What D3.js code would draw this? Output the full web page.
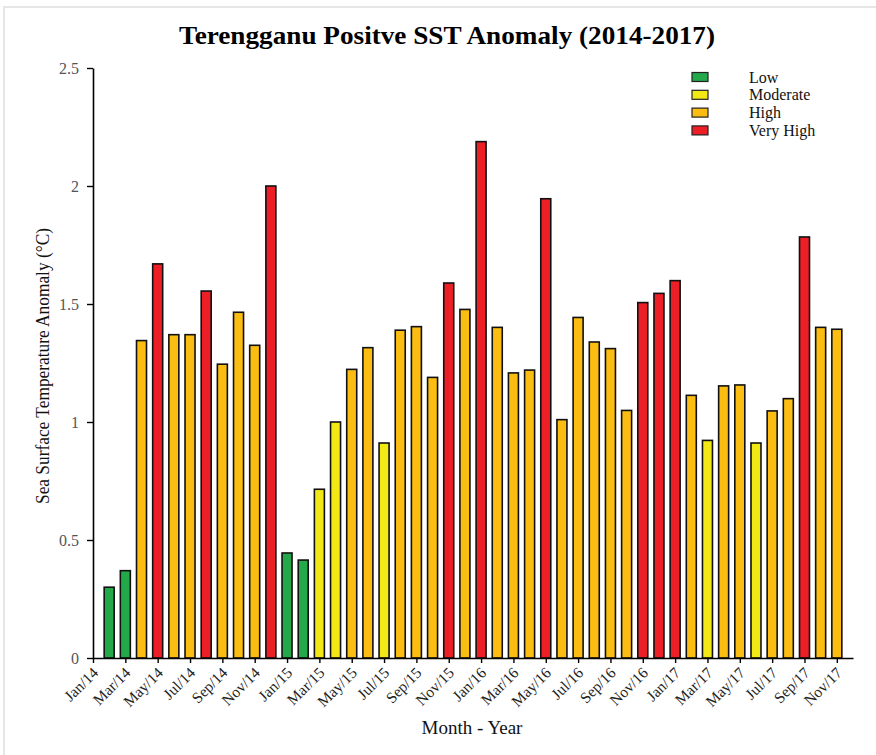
<!DOCTYPE html>
<html>
<head>
<meta charset="utf-8">
<script src="https://cdn.jsdelivr.net/npm/d3@7"></script>
<style>
  body { margin: 0; background: #fff; }
  text { font-family: "Liberation Serif", "Times New Roman", serif; }
</style>
</head>
<body>
<svg id="chart" width="876" height="755"></svg>
<script>
// bars sit at positions 1..46, tick labels at 0,2,...,46
var values = [0.30, 0.37, 1.345, 1.67, 1.37, 1.37, 1.555, 1.245, 1.465, 1.325, 2.0,
              0.445, 0.415, 0.715, 1.0, 1.223, 1.315, 0.911, 1.389, 1.404, 1.189, 1.589,
              1.477, 2.188, 1.401, 1.208, 1.220, 1.946, 1.010, 1.443, 1.339, 1.311, 1.049,
              1.506, 1.545, 1.599, 1.113, 0.922, 1.153, 1.157, 0.911, 1.047, 1.099,
              1.784, 1.401, 1.393];
var levels = ["Low", "Low", "High", "Very High", "High", "High", "Very High", "High", "High", "High", "Very High",
              "Low", "Low", "Moderate", "Moderate", "High", "High", "Moderate", "High", "High", "High", "Very High",
              "High", "Very High", "High", "High", "High", "Very High", "High", "High", "High", "High", "High",
              "Very High", "Very High", "Very High", "High", "Moderate", "High", "High", "Moderate", "High", "High",
              "Very High", "High", "High"];
var tickLabels = ["Jan/14", "Mar/14", "May/14", "Jul/14", "Sep/14", "Nov/14",
                  "Jan/15", "Mar/15", "May/15", "Jul/15", "Sep/15", "Nov/15",
                  "Jan/16", "Mar/16", "May/16", "Jul/16", "Sep/16", "Nov/16",
                  "Jan/17", "Mar/17", "May/17", "Jul/17", "Sep/17", "Nov/17"];
var categories = ["Low", "Moderate", "High", "Very High"];
var yTicks = [0, 0.5, 1, 1.5, 2, 2.5];

var colors = d3.scaleOrdinal()
    .domain(categories)
    .range(["#23a84a", "#f1e816", "#fcbd13", "#ec1f26"]);

var svg = d3.select("#chart");

// faint frame of the original figure
svg.append("rect")
    .attr("x", 4).attr("y", 7)
    .attr("width", 900).attr("height", 800)
    .style("fill", "none")
    .style("stroke", "#e6e6e6")
    .style("stroke-width", 2);

var x = d3.scaleLinear().domain([0, 47]).range([93, 853]);
var y = d3.scaleLinear().domain([0, 2.5]).range([658, 68]);

var barW = 10;

svg.append("g")
    .selectAll("rect")
    .data(values)
    .enter()
    .append("rect")
    .attr("x", function (d, i) { return x(i + 1) - barW / 2; })
    .attr("y", function (d) { return y(d); })
    .attr("width", barW)
    .attr("height", function (d) { return y(0) - y(d); })
    .style("fill", function (d, i) { return colors(levels[i]); })
    .style("stroke", "#111")
    .style("stroke-width", 1.6);

// y axis
var yAxis = d3.axisLeft(y)
    .tickValues(yTicks)
    .tickFormat(function (d) { return d; })
    .tickSize(6)
    .tickSizeOuter(0)
    .tickPadding(8);

var gy = svg.append("g")
    .attr("transform", "translate(93,0)")
    .call(yAxis);
gy.select(".domain").style("stroke", "#000").style("stroke-width", 1.6);
gy.selectAll(".tick line").style("stroke", "#000").style("stroke-width", 1.4);
gy.selectAll(".tick text")
    .style("font-family", "Liberation Serif, serif")
    .style("font-size", "16px")
    .style("fill", "#555");

// x axis
var xAxis = d3.axisBottom(x)
    .tickValues(d3.range(0, 47, 2))
    .tickFormat(function (d) { return tickLabels[d / 2]; })
    .tickSize(5)
    .tickSizeOuter(0);

var gx = svg.append("g")
    .attr("transform", "translate(0,658)")
    .call(xAxis);
gx.select(".domain").style("stroke", "#000").style("stroke-width", 1.6);
gx.selectAll(".tick line").style("stroke", "#000").style("stroke-width", 1.4);
gx.selectAll(".tick text")
    .style("font-family", "Liberation Serif, serif")
    .style("font-size", "15.5px")
    .style("fill", "#222")
    .attr("text-anchor", "end")
    .attr("y", 0)
    .attr("dx", "0")
    .attr("dy", "0.7em")
    .attr("transform", "translate(-2,8) rotate(-45)");

// title
svg.append("text")
    .attr("x", 447).attr("y", 44)
    .attr("text-anchor", "middle")
    .attr("textLength", 536)
    .attr("lengthAdjust", "spacingAndGlyphs")
    .style("font-size", "26px")
    .style("font-weight", "bold")
    .style("fill", "#000")
    .text("Terengganu Positve SST Anomaly (2014-2017)");

// axis titles
svg.append("text")
    .attr("transform", "translate(49,366) rotate(-90)")
    .attr("text-anchor", "middle")
    .attr("textLength", 276)
    .attr("lengthAdjust", "spacingAndGlyphs")
    .style("font-size", "18px")
    .style("fill", "#111")
    .text("Sea Surface Temperature Anomaly (°C)");

svg.append("text")
    .attr("x", 472).attr("y", 734)
    .attr("text-anchor", "middle")
    .style("font-size", "19px")
    .style("fill", "#111")
    .text("Month - Year");

// legend
var legend = svg.append("g").selectAll("g")
    .data(categories)
    .enter()
    .append("g")
    .attr("transform", function (d, i) { return "translate(692," + (72.5 + i * 17.8) + ")"; });

legend.append("rect")
    .attr("width", 16).attr("height", 9)
    .style("fill", function (d) { return colors(d); })
    .style("stroke", "#222")
    .style("stroke-width", 1.2);

legend.append("text")
    .attr("x", 57).attr("y", 10)
    .style("font-size", "16px")
    .style("fill", "#111")
    .text(function (d) { return d; });
</script>
</body>
</html>
